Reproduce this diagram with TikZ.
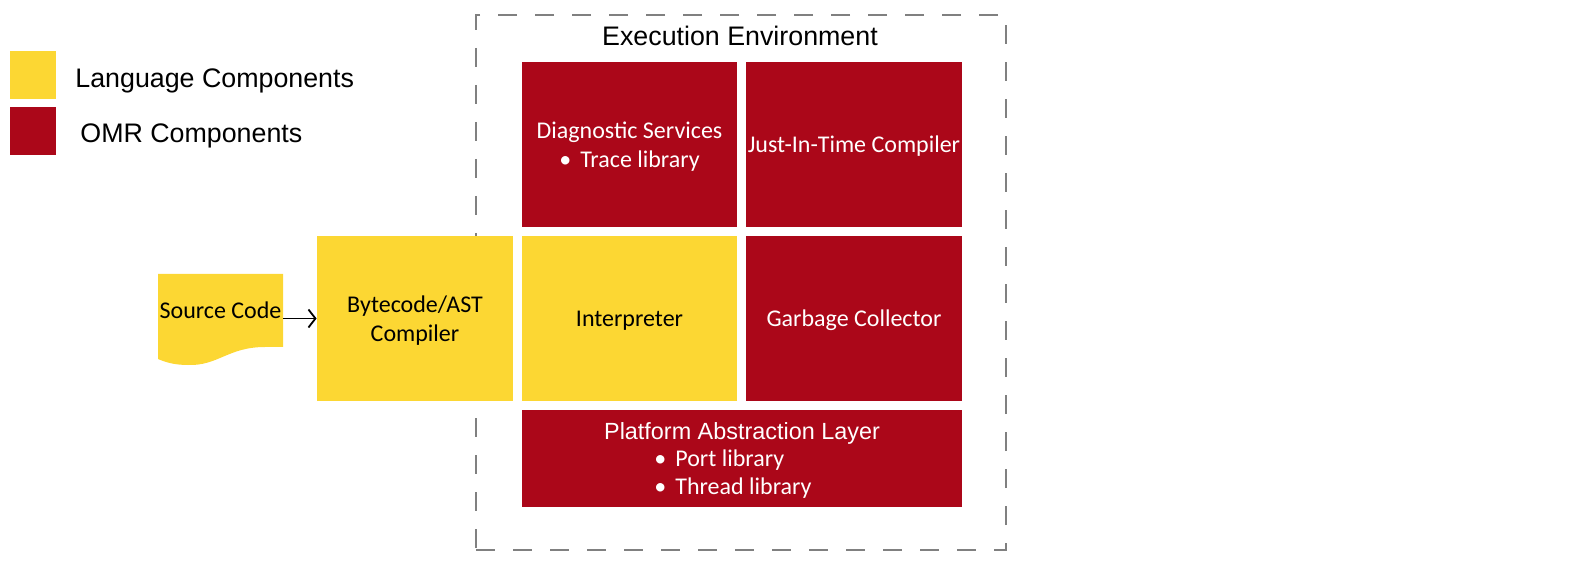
\documentclass[tikz,border=0pt]{standalone}
\usepackage{fontspec}
\setmainfont{Carlito}
\newfontfamily\arialfont{Liberation Sans}
\usepackage{xcolor}
\usepackage{tikz}
\usetikzlibrary{arrows.meta}

\definecolor{LangYellow}{HTML}{FCD733}
\definecolor{OmrRed}{HTML}{AB0719}

\begin{document}
\begin{tikzpicture}[x=0.5pt, y=-0.5pt,
    lang/.style={fill=LangYellow, inner sep=0pt, align=center, text depth=0pt,
      font=\fontsize{12}{14.6}\selectfont},
    omr/.style={fill=OmrRed, inner sep=0pt, align=center, text depth=0pt, text=white,
      font=\fontsize{12}{14.6}\selectfont},
    keytext/.style={anchor=base west, inner sep=0pt, font=\arialfont\fontsize{13.4}{16}\selectfont}]
  \useasboundingbox (0,0) rectangle (1596,572);

  % legend
  \node[lang, minimum width=23pt, minimum height=24pt] (langkey) at (33,75) {};
  \node[omr, minimum width=23pt, minimum height=24pt] (omrkey) at (33,131) {};
  \node[keytext] (langtext) at (75,88) {Language Components};
  \node[keytext] (omrtext) at (80,143) {OMR Components};

  % execution environment
  \node[draw=gray, line width=1pt, dash pattern=on 9.5pt off 9pt,
    minimum width=265pt, minimum height=267.5pt] (envbox) at (741,282.5) {};
  \node[font=\arialfont\fontsize{13.4}{16}\selectfont] (envtitle) at (740,36) {Execution Environment};

  \node[omr, minimum width=107.5pt, minimum height=82.5pt] (diag) at (629.5,144.5)
    {Diagnostic Services\\\textbullet\hspace{4.5pt}Trace library};
  \node[omr, minimum width=108pt, minimum height=82.5pt] (jit) at (854,144.5) {Just-In-Time Compiler};
  \node[lang, minimum width=107.5pt, minimum height=82.5pt] (interp) at (629.5,318.5) {Interpreter};
  \node[omr, minimum width=108pt, minimum height=82.5pt] (gc) at (854,318.5) {Garbage Collector};
  \node[omr, minimum width=220pt, minimum height=48.5pt, text depth=7pt] (pal) at (742,458.5)
    {{\arialfont\fontsize{11.7}{14.5}\selectfont Platform Abstraction Layer}\\
     \begin{tabular}{@{}l@{\hspace{9pt}}}
       \textbullet\hspace{4.5pt}Port library\\[-0.4pt]
       \textbullet\hspace{4.5pt}Thread library
     \end{tabular}};

  % front end
  \node[lang, minimum width=98pt, minimum height=82.5pt] (bytecode) at (415,318.5) {Bytecode/AST\\Compiler};
  \fill[LangYellow] (158,274) -- (283,274) -- (283,347) -- (265,347)
    .. controls (228,347) and (218,366) .. (188,365)
    .. controls (174,365) and (165,362) .. (158,359) -- cycle;
  \node[inner sep=0pt, minimum width=62.5pt, minimum height=36.5pt, text depth=0pt,
    font=\fontsize{12}{14.6}\selectfont] (src) at (220.5,310.5) {Source Code};
  \draw[-{Straight Barb[length=3.5pt,width=9pt]}, line width=0.9pt]
    (src.east |- bytecode.west) -- (bytecode.west);
\end{tikzpicture}
\end{document}
